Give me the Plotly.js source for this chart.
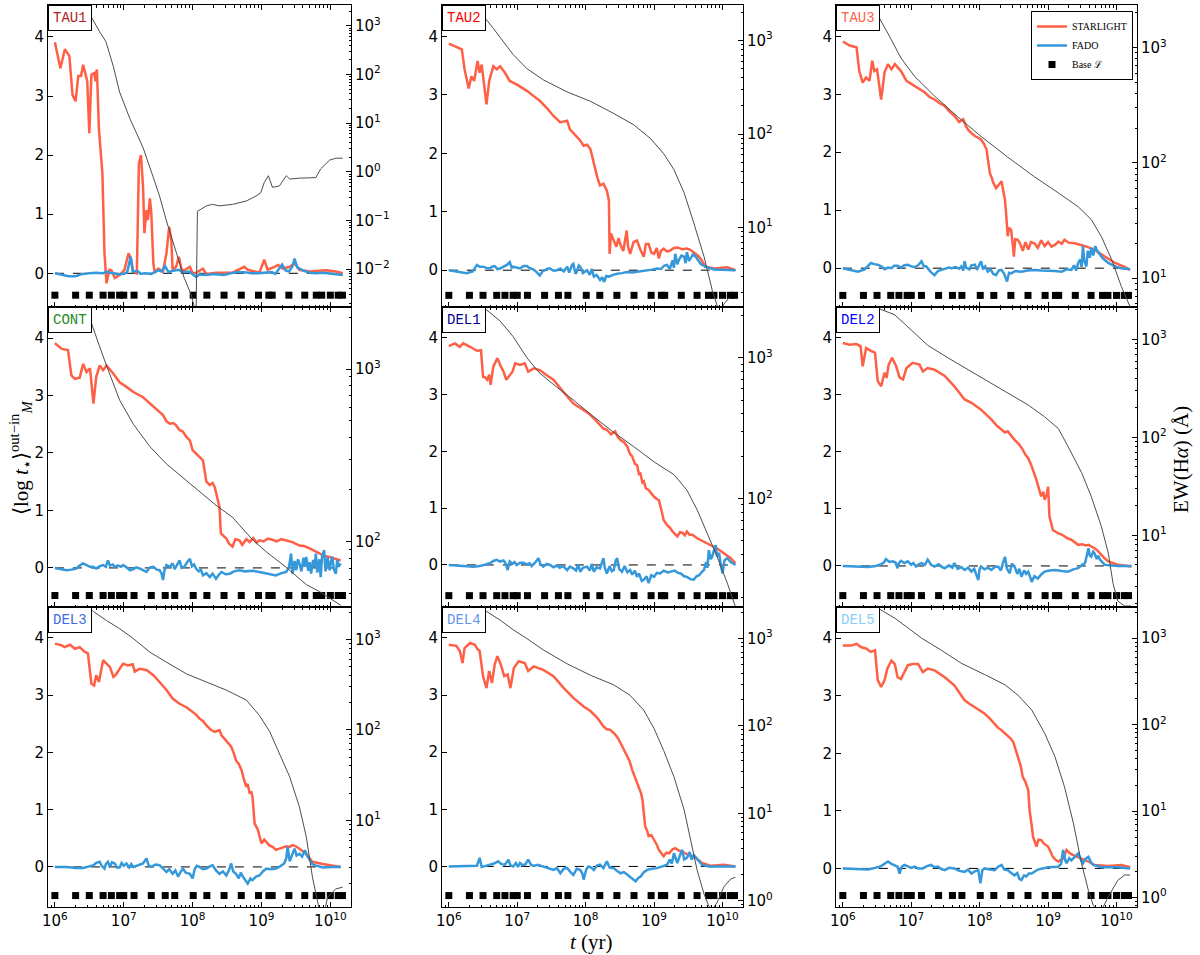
<!DOCTYPE html>
<html>
<head>
<meta charset="utf-8">
<script src="https://cdn.plot.ly/plotly-3.0.1.min.js"></script>
<style>
  body { margin: 0; background: #fff; }
  #chart { width: 1200px; height: 955px; }
</style>
</head>
<body>
<div id="chart"></div>
<script>
// panels, read row by row; every pair is [log10 t (yr), value]
const panelNames = ['TAU1', 'TAU2', 'TAU3', 'CONT', 'DEL1', 'DEL2', 'DEL3', 'DEL4', 'DEL5'];
const baseAges = [1e6, 2e6, 3.16e6, 5.01e6, 6.61e6, 8.71e6, 1e7, 1.41e7, 2.51e7, 4e7, 5.5e7, 1.02e8, 1.61e8, 2.86e8,
  5.09e8, 9.05e8, 1.28e9, 1.43e9, 2.5e9, 4.25e9, 6.25e9, 7.5e9, 1e10, 1.3e10, 1.5e10];
// level of the base squares on the left axis, per panel
const baseLevel = [-0.37, -0.43, -0.47, -0.48, -0.54, -0.52, -0.50, -0.51, -0.47];

// STARLIGHT: <log t*>_M out-in
const tau1Sl = [[6.00,3.91],[6.08,3.47],[6.145,3.79],[6.21,3.68],[6.256,3.02],[6.30,2.91],[6.34,3.34],[6.38,3.34],[6.41,3.53],[6.47,3.25],[6.50,2.37],[6.53,3.36],[6.57,3.39],[6.59,3.25],[6.61,3.45],[6.64,2.43],[6.69,1.69],[6.72,0.34],[6.75,-0.17],[6.79,0.06],[6.82,0.05],[6.87,-0.08],[6.94,-0.03],[7.01,0.06],[7.07,0.34],[7.11,0.23],[7.135,0.03],[7.19,0.00],[7.22,1.86],[7.25,2.00],[7.28,1.47],[7.30,0.68],[7.33,1.07],[7.35,0.90],[7.38,1.27],[7.40,1.02],[7.43,0.17],[7.45,0.01],[7.50,0.08],[7.57,0.03],[7.62,0.34],[7.66,0.79],[7.69,0.56],[7.71,0.06],[7.76,0.11],[7.80,0.28],[7.84,0.06],[7.88,0.05],[7.96,0.11],[8.00,0.00],[8.05,0.01],[8.15,0.08],[8.20,-0.01],[8.34,0.01],[8.58,0.01],[8.75,0.11],[8.80,0.06],[8.97,0.01],[9.04,0.23],[9.09,0.06],[9.19,0.11],[9.24,0.14],[9.31,0.08],[9.41,0.11],[9.48,0.17],[9.55,0.06],[9.70,0.03],[9.94,0.05],[10.08,0.03],[10.18,0.00]];
const tau2Sl = [[6.0,3.88],[6.11,3.82],[6.19,3.78],[6.23,3.44],[6.29,3.11],[6.33,3.32],[6.37,3.24],[6.42,3.58],[6.45,3.38],[6.48,3.52],[6.51,3.21],[6.55,2.84],[6.59,3.24],[6.65,3.49],[6.70,3.44],[6.75,3.49],[6.82,3.38],[6.89,3.24],[6.99,3.18],[7.14,3.07],[7.24,2.98],[7.33,2.90],[7.43,2.78],[7.53,2.64],[7.63,2.53],[7.73,2.56],[7.77,2.41],[7.87,2.27],[7.92,2.22],[7.97,2.13],[8.02,2.15],[8.07,2.07],[8.12,1.82],[8.17,1.59],[8.21,1.45],[8.26,1.48],[8.31,1.36],[8.34,1.19],[8.35,0.28],[8.37,0.63],[8.41,0.51],[8.45,0.40],[8.48,0.55],[8.51,0.43],[8.55,0.33],[8.60,0.68],[8.62,0.40],[8.65,0.28],[8.70,0.48],[8.75,0.51],[8.80,0.35],[8.85,0.23],[8.88,0.45],[8.92,0.45],[8.96,0.30],[9.00,0.28],[9.04,0.38],[9.07,0.20],[9.10,0.33],[9.14,0.37],[9.19,0.32],[9.24,0.34],[9.29,0.38],[9.34,0.39],[9.41,0.36],[9.48,0.37],[9.53,0.35],[9.58,0.31],[9.63,0.26],[9.68,0.20],[9.75,0.06],[9.88,0.03],[10.07,0.05],[10.19,0.00]];
const tau3Sl = [[6.0,3.91],[6.10,3.84],[6.20,3.81],[6.24,3.40],[6.29,3.20],[6.34,3.29],[6.39,3.23],[6.43,3.58],[6.46,3.40],[6.50,3.43],[6.56,2.91],[6.61,3.38],[6.66,3.52],[6.71,3.43],[6.76,3.52],[6.85,3.40],[6.93,3.23],[7.05,3.14],[7.20,3.03],[7.27,2.95],[7.34,2.91],[7.42,2.84],[7.49,2.80],[7.56,2.70],[7.63,2.63],[7.70,2.52],[7.76,2.57],[7.80,2.45],[7.83,2.39],[7.88,2.33],[7.93,2.28],[7.98,2.25],[8.02,2.22],[8.06,2.15],[8.10,2.05],[8.13,1.80],[8.15,1.64],[8.18,1.55],[8.20,1.47],[8.24,1.38],[8.28,1.45],[8.32,1.50],[8.35,1.30],[8.37,1.18],[8.39,0.89],[8.41,0.55],[8.43,0.70],[8.46,0.66],[8.48,0.45],[8.50,0.20],[8.52,0.50],[8.56,0.49],[8.60,0.40],[8.63,0.30],[8.67,0.45],[8.71,0.32],[8.75,0.45],[8.80,0.43],[8.85,0.35],[8.90,0.48],[8.95,0.38],[9.00,0.45],[9.05,0.37],[9.10,0.40],[9.15,0.46],[9.20,0.42],[9.24,0.49],[9.30,0.44],[9.39,0.43],[9.46,0.41],[9.54,0.38],[9.61,0.35],[9.68,0.32],[9.75,0.26],[9.83,0.20],[9.90,0.14],[9.98,0.09],[10.10,0.03],[10.20,-0.03]];
const contSl = [[6.0,3.91],[6.10,3.81],[6.19,3.79],[6.24,3.35],[6.29,3.29],[6.36,3.31],[6.41,3.55],[6.46,3.41],[6.51,3.47],[6.56,2.86],[6.60,3.32],[6.65,3.52],[6.70,3.44],[6.75,3.52],[6.85,3.38],[6.94,3.23],[7.04,3.15],[7.14,3.06],[7.28,2.97],[7.36,2.88],[7.43,2.80],[7.50,2.73],[7.57,2.66],[7.62,2.55],[7.67,2.51],[7.72,2.52],[7.76,2.48],[7.81,2.40],[7.86,2.37],[7.91,2.28],[7.96,2.22],[8.00,2.05],[8.05,1.99],[8.10,1.92],[8.15,1.87],[8.18,1.65],[8.20,1.50],[8.25,1.44],[8.29,1.48],[8.32,1.41],[8.37,1.18],[8.39,1.06],[8.41,0.60],[8.45,0.55],[8.49,0.51],[8.53,0.42],[8.58,0.37],[8.62,0.50],[8.68,0.48],[8.72,0.40],[8.78,0.50],[8.83,0.45],[8.88,0.52],[8.93,0.44],[8.97,0.48],[9.03,0.46],[9.09,0.51],[9.16,0.49],[9.22,0.46],[9.29,0.50],[9.36,0.48],[9.45,0.45],[9.55,0.39],[9.62,0.38],[9.70,0.34],[9.77,0.30],[9.84,0.25],[9.91,0.21],[9.99,0.19],[10.07,0.16],[10.15,0.13]];
const del1Sl = [[6.0,3.85],[6.09,3.90],[6.16,3.84],[6.21,3.90],[6.31,3.84],[6.41,3.77],[6.47,3.78],[6.50,3.31],[6.53,3.30],[6.56,3.26],[6.59,3.35],[6.61,3.17],[6.65,3.49],[6.71,3.64],[6.75,3.52],[6.80,3.40],[6.84,3.26],[6.89,3.34],[6.93,3.40],[6.97,3.55],[7.04,3.52],[7.11,3.55],[7.16,3.40],[7.24,3.46],[7.33,3.43],[7.43,3.34],[7.53,3.26],[7.63,3.11],[7.73,2.96],[7.82,2.84],[7.90,2.78],[7.97,2.73],[8.05,2.66],[8.12,2.58],[8.21,2.46],[8.26,2.40],[8.31,2.38],[8.37,2.30],[8.43,2.35],[8.47,2.25],[8.51,2.20],[8.56,2.16],[8.61,2.08],[8.65,1.95],[8.68,1.91],[8.72,1.78],[8.75,1.76],[8.78,1.60],[8.80,1.61],[8.83,1.45],[8.85,1.47],[8.88,1.35],[8.92,1.32],[8.96,1.25],[9.00,1.20],[9.04,1.16],[9.07,1.14],[9.11,0.95],[9.14,0.79],[9.19,0.70],[9.23,0.66],[9.27,0.59],[9.31,0.53],[9.34,0.50],[9.38,0.58],[9.42,0.56],[9.45,0.52],[9.48,0.59],[9.52,0.53],[9.56,0.53],[9.63,0.47],[9.68,0.44],[9.73,0.41],[9.78,0.38],[9.83,0.35],[9.88,0.31],[9.92,0.29],[9.97,0.25],[10.02,0.21],[10.07,0.17],[10.12,0.12],[10.19,0.03]];
const del2Sl = [[6.0,3.91],[6.10,3.88],[6.20,3.89],[6.26,3.85],[6.29,3.50],[6.34,3.82],[6.41,3.77],[6.47,3.74],[6.51,3.24],[6.56,3.15],[6.61,3.39],[6.64,3.30],[6.67,3.53],[6.72,3.65],[6.78,3.50],[6.83,3.30],[6.88,3.27],[6.93,3.47],[7.02,3.56],[7.12,3.53],[7.17,3.41],[7.24,3.47],[7.34,3.44],[7.49,3.33],[7.63,3.15],[7.72,3.00],[7.78,2.92],[7.88,2.86],[7.95,2.80],[8.02,2.74],[8.10,2.65],[8.17,2.57],[8.25,2.46],[8.32,2.39],[8.37,2.34],[8.41,2.36],[8.46,2.28],[8.51,2.21],[8.57,2.14],[8.63,2.04],[8.67,1.95],[8.71,1.89],[8.75,1.78],[8.78,1.69],[8.81,1.60],[8.83,1.51],[8.86,1.38],[8.90,1.22],[8.93,1.30],[8.95,1.16],[8.98,1.25],[9.00,1.39],[9.02,0.87],[9.05,0.70],[9.07,0.63],[9.11,0.60],[9.15,0.57],[9.20,0.55],[9.24,0.52],[9.29,0.48],[9.34,0.46],[9.39,0.41],[9.44,0.37],[9.50,0.38],[9.55,0.36],[9.59,0.37],[9.64,0.34],[9.68,0.31],[9.73,0.26],[9.78,0.19],[9.83,0.13],[9.88,0.08],[10.02,0.02],[10.22,-0.01]];
const del3Sl = [[6.0,3.90],[6.10,3.87],[6.14,3.84],[6.22,3.88],[6.29,3.81],[6.36,3.84],[6.43,3.76],[6.48,3.73],[6.53,3.20],[6.57,3.17],[6.60,3.35],[6.64,3.23],[6.70,3.61],[6.75,3.55],[6.80,3.49],[6.85,3.32],[6.88,3.35],[6.93,3.44],[6.99,3.55],[7.06,3.52],[7.13,3.54],[7.16,3.41],[7.23,3.46],[7.33,3.44],[7.43,3.35],[7.52,3.23],[7.62,3.09],[7.71,2.94],[7.76,2.90],[7.81,2.85],[7.91,2.79],[8.00,2.71],[8.05,2.66],[8.10,2.59],[8.15,2.55],[8.20,2.47],[8.26,2.40],[8.32,2.36],[8.39,2.39],[8.42,2.30],[8.46,2.24],[8.51,2.18],[8.56,2.10],[8.60,1.98],[8.63,1.86],[8.67,1.80],[8.71,1.69],[8.74,1.55],[8.78,1.40],[8.80,1.45],[8.83,1.28],[8.85,1.32],[8.87,1.22],[8.90,0.76],[8.93,0.70],[8.95,0.64],[8.98,0.50],[9.00,0.41],[9.04,0.48],[9.07,0.44],[9.11,0.38],[9.16,0.35],[9.21,0.30],[9.26,0.32],[9.31,0.34],[9.36,0.36],[9.41,0.35],[9.45,0.38],[9.50,0.36],[9.55,0.32],[9.60,0.28],[9.65,0.23],[9.70,0.15],[9.74,0.09],[9.89,0.05],[10.03,0.03],[10.15,0.00]];
const del4Sl = [[6.0,3.88],[6.11,3.86],[6.16,3.77],[6.20,3.56],[6.23,3.82],[6.31,3.91],[6.38,3.88],[6.42,3.80],[6.45,3.77],[6.50,3.33],[6.55,3.12],[6.59,3.42],[6.63,3.21],[6.67,3.53],[6.71,3.68],[6.76,3.53],[6.81,3.33],[6.86,3.36],[6.90,3.12],[6.95,3.47],[7.02,3.59],[7.11,3.56],[7.16,3.42],[7.24,3.50],[7.38,3.44],[7.53,3.33],[7.68,3.12],[7.82,2.95],[7.97,2.80],[8.07,2.72],[8.17,2.60],[8.26,2.45],[8.31,2.40],[8.36,2.39],[8.43,2.31],[8.47,2.25],[8.51,2.16],[8.56,2.05],[8.61,1.93],[8.64,1.85],[8.68,1.69],[8.71,1.60],[8.73,1.55],[8.76,1.45],[8.78,1.40],[8.81,1.28],[8.83,1.17],[8.85,0.95],[8.87,0.70],[8.90,0.62],[8.92,0.53],[8.96,0.55],[9.00,0.47],[9.04,0.38],[9.07,0.29],[9.11,0.22],[9.14,0.18],[9.18,0.24],[9.22,0.23],[9.27,0.30],[9.31,0.32],[9.36,0.28],[9.41,0.26],[9.46,0.23],[9.51,0.20],[9.56,0.18],[9.61,0.15],[9.66,0.10],[9.70,0.06],[9.83,0.01],[10.02,0.03],[10.19,0.00]];
const del5Sl = [[6.0,3.87],[6.12,3.87],[6.20,3.90],[6.27,3.84],[6.34,3.82],[6.41,3.76],[6.47,3.79],[6.51,3.27],[6.56,3.15],[6.61,3.27],[6.65,3.47],[6.71,3.61],[6.76,3.55],[6.80,3.32],[6.85,3.29],[6.90,3.41],[6.95,3.53],[7.02,3.55],[7.10,3.55],[7.17,3.41],[7.24,3.47],[7.34,3.44],[7.49,3.32],[7.63,3.18],[7.70,3.05],[7.78,2.92],[7.85,2.86],[7.93,2.80],[8.00,2.75],[8.07,2.69],[8.15,2.60],[8.22,2.51],[8.27,2.44],[8.32,2.40],[8.37,2.35],[8.41,2.31],[8.45,2.26],[8.49,2.20],[8.53,2.06],[8.56,1.94],[8.60,1.78],[8.63,1.59],[8.67,1.50],[8.71,1.36],[8.73,1.01],[8.76,0.75],[8.78,0.55],[8.81,0.45],[8.83,0.38],[8.86,0.50],[8.90,0.49],[8.94,0.43],[9.00,0.38],[9.04,0.28],[9.07,0.20],[9.11,0.15],[9.15,0.12],[9.19,0.15],[9.22,0.17],[9.27,0.32],[9.32,0.26],[9.37,0.23],[9.43,0.20],[9.49,0.17],[9.54,0.14],[9.59,0.12],[9.68,0.06],[9.88,0.04],[10.07,0.06],[10.20,0.02]];

// FADO: <log t*>_M out-in
const tau1Fd = [[6.0,0],[6.1,-0.02],[6.2,-0.05],[6.3,-0.05],[6.4,-0.01],[6.5,0],[6.6,0.01],[6.7,0],[6.75,0.03],[6.8,0.01],[6.9,-0.01],[7.0,-0.01],[7.05,0.02],[7.1,0.28],[7.13,0.03],[7.2,0.04],[7.25,-0.01],[7.3,0],[7.4,-0.01],[7.45,0.02],[7.5,0.05],[7.55,0.03],[7.6,0.12],[7.65,0.02],[7.7,0.04],[7.8,0.06],[7.85,0.02],[7.95,0.03],[8.0,-0.01],[8.05,-0.06],[8.1,-0.02],[8.2,-0.03],[8.3,-0.01],[8.45,-0.03],[8.55,0],[8.65,0.02],[8.75,0.02],[8.85,0],[8.95,0],[9.05,0.01],[9.15,0.02],[9.2,-0.01],[9.3,0.15],[9.35,0.05],[9.4,0.03],[9.45,0.12],[9.48,0.25],[9.52,0.1],[9.6,0.05],[9.7,0.01],[9.8,0],[9.9,0.01],[10.0,0],[10.1,-0.01],[10.18,-0.03]];
const tau2Fd = [[6.0,0],[6.13,-0.03],[6.26,-0.05],[6.35,-0.02],[6.41,0.09],[6.45,0.06],[6.50,0.06],[6.55,0.04],[6.60,0.03],[6.63,0.06],[6.67,0.07],[6.71,0.02],[6.75,0.03],[6.80,0.06],[6.85,0.09],[6.89,0.14],[6.92,0.04],[6.94,0.06],[6.99,0.05],[7.04,0.03],[7.09,0.07],[7.14,0.07],[7.19,0.03],[7.24,0.01],[7.29,-0.04],[7.33,-0.09],[7.37,-0.02],[7.41,0],[7.45,0.03],[7.48,0.03],[7.53,-0.01],[7.58,0],[7.63,0.03],[7.68,-0.02],[7.73,0.06],[7.76,-0.04],[7.80,0.09],[7.82,0.11],[7.85,-0.06],[7.87,-0.03],[7.90,0.08],[7.92,0.06],[7.96,-0.05],[8.02,0],[8.06,-0.08],[8.09,0.02],[8.12,-0.11],[8.16,-0.08],[8.21,-0.17],[8.24,-0.12],[8.27,-0.20],[8.30,-0.10],[8.34,-0.11],[8.40,-0.08],[8.46,-0.06],[8.53,-0.05],[8.60,-0.03],[8.68,-0.04],[8.75,-0.03],[8.83,-0.02],[8.90,0],[8.97,0.01],[9.04,0.03],[9.10,0.02],[9.15,0.08],[9.19,0.09],[9.23,0.02],[9.27,0.17],[9.29,0.04],[9.31,0.28],[9.34,0.10],[9.36,0.17],[9.40,0.25],[9.44,0.23],[9.46,0.12],[9.48,0.31],[9.51,0.16],[9.53,0.20],[9.57,0.27],[9.61,0.23],[9.65,0.15],[9.68,0.11],[9.75,0.06],[9.88,0.01],[10.19,0]];
const tau3Fd = [[6.0,0],[6.11,-0.03],[6.22,-0.06],[6.32,-0.02],[6.41,0.09],[6.46,0.07],[6.51,0.06],[6.56,0.03],[6.61,-0.02],[6.66,0.01],[6.71,0],[6.75,0.04],[6.80,0.04],[6.85,0.01],[6.90,0.05],[6.95,0.06],[7.00,0.03],[7.05,0.02],[7.10,0.05],[7.15,0.12],[7.18,0.04],[7.22,0.03],[7.28,-0.06],[7.34,-0.12],[7.39,-0.05],[7.44,-0.03],[7.50,-0.01],[7.55,0.01],[7.59,0],[7.65,0.02],[7.70,-0.01],[7.73,0.03],[7.76,-0.04],[7.78,0.12],[7.80,0.01],[7.85,-0.02],[7.88,0.05],[7.93,0.06],[7.96,-0.03],[7.99,0.04],[8.02,0.12],[8.05,-0.02],[8.08,0.03],[8.12,-0.06],[8.16,-0.02],[8.20,-0.10],[8.24,-0.12],[8.28,-0.04],[8.32,-0.03],[8.36,-0.10],[8.40,-0.23],[8.43,-0.08],[8.46,-0.09],[8.52,-0.05],[8.61,-0.06],[8.70,-0.04],[8.80,-0.03],[8.90,-0.04],[9.00,-0.04],[9.10,-0.05],[9.20,-0.06],[9.27,-0.02],[9.34,-0.03],[9.38,0.05],[9.41,-0.04],[9.44,0.09],[9.47,0.15],[9.49,0.02],[9.51,0.38],[9.53,0.12],[9.56,0.03],[9.58,0.30],[9.61,0.18],[9.63,0.35],[9.66,0.22],[9.69,0.38],[9.71,0.32],[9.74,0.25],[9.76,0.23],[9.80,0.17],[9.83,0.14],[9.88,0.09],[9.93,0.06],[10.00,0.02],[10.07,0],[10.20,-0.02]];
const contFd = [[6.0,0],[6.08,-0.02],[6.17,-0.04],[6.24,-0.03],[6.31,-0.01],[6.36,0.04],[6.41,0.08],[6.46,0.05],[6.51,0.02],[6.55,0.02],[6.60,-0.01],[6.65,0.03],[6.70,0.05],[6.74,0.02],[6.77,0.13],[6.80,0.04],[6.84,0.06],[6.87,0.02],[6.92,0.04],[6.96,0.02],[6.99,0.05],[7.04,0.01],[7.09,-0.04],[7.14,-0.02],[7.18,0.01],[7.23,-0.01],[7.28,-0.04],[7.33,-0.07],[7.38,0.01],[7.43,0.02],[7.48,-0.03],[7.52,-0.04],[7.55,-0.10],[7.57,-0.21],[7.59,-0.05],[7.62,0.05],[7.67,0.02],[7.71,0.08],[7.74,-0.02],[7.78,0.06],[7.81,0.13],[7.84,0.00],[7.88,0.02],[7.92,0.10],[7.96,0.16],[7.99,0.03],[8.02,0.06],[8.05,-0.01],[8.09,-0.06],[8.12,-0.03],[8.15,-0.13],[8.20,-0.09],[8.25,-0.16],[8.29,-0.10],[8.34,-0.19],[8.38,-0.12],[8.42,-0.07],[8.48,-0.11],[8.54,-0.10],[8.60,-0.06],[8.68,-0.04],[8.76,-0.06],[8.87,-0.05],[8.97,-0.07],[9.07,-0.10],[9.14,-0.11],[9.21,-0.13],[9.29,-0.09],[9.36,-0.07],[9.40,0.02],[9.43,0.25],[9.45,-0.10],[9.48,0.12],[9.50,-0.04],[9.53,0.15],[9.55,0.08],[9.58,-0.06],[9.61,0.18],[9.63,0.02],[9.65,0.19],[9.68,-0.05],[9.70,0.10],[9.72,-0.10],[9.75,0.14],[9.77,0.02],[9.79,0.25],[9.81,-0.08],[9.84,0.15],[9.86,-0.16],[9.88,0.20],[9.91,0.31],[9.93,-0.06],[9.96,0.18],[9.99,-0.04],[10.01,0.12],[10.03,0.19],[10.05,-0.02],[10.08,-0.10],[10.10,0.14],[10.12,0.02],[10.15,0.08]];
const del1Fd = [[6.0,0],[6.13,-0.01],[6.26,-0.02],[6.36,-0.03],[6.45,-0.02],[6.53,0],[6.60,0.03],[6.65,0.07],[6.70,0.09],[6.75,0.06],[6.80,0.08],[6.83,0.03],[6.86,-0.09],[6.89,0.06],[6.93,0.02],[6.96,0.05],[6.99,0],[7.04,0.04],[7.09,0.04],[7.14,0.01],[7.18,0.03],[7.21,-0.02],[7.26,0.04],[7.31,0.12],[7.34,0.01],[7.38,-0.03],[7.43,0.02],[7.48,0],[7.53,-0.04],[7.58,-0.01],[7.62,-0.05],[7.67,-0.02],[7.73,-0.09],[7.77,-0.03],[7.82,-0.06],[7.86,-0.10],[7.89,0.01],[7.92,-0.12],[7.96,-0.05],[8.02,-0.03],[8.06,-0.10],[8.09,0.02],[8.12,-0.12],[8.16,-0.04],[8.21,-0.06],[8.26,0.12],[8.28,-0.05],[8.31,-0.15],[8.35,-0.02],[8.38,-0.11],[8.41,-0.09],[8.44,0.08],[8.46,0.12],[8.49,-0.07],[8.53,-0.12],[8.57,-0.02],[8.61,-0.13],[8.65,-0.09],[8.68,-0.17],[8.72,-0.10],[8.75,-0.21],[8.78,-0.15],[8.82,-0.28],[8.85,-0.26],[8.89,-0.20],[8.92,-0.32],[8.96,-0.18],[9.00,-0.21],[9.04,-0.14],[9.09,-0.15],[9.14,-0.10],[9.20,-0.13],[9.24,-0.12],[9.30,-0.10],[9.35,-0.14],[9.39,-0.15],[9.44,-0.20],[9.48,-0.21],[9.53,-0.25],[9.58,-0.26],[9.62,-0.20],[9.66,-0.18],[9.70,-0.12],[9.73,-0.09],[9.76,0.05],[9.78,-0.05],[9.80,0.26],[9.83,0.10],[9.85,0.15],[9.88,0.30],[9.90,0.35],[9.92,0.15],[9.95,0.21],[9.97,0.05],[10.00,-0.15],[10.03,0.08],[10.07,0.12],[10.12,0.05],[10.19,0]];
const del2Fd = [[6.0,0],[6.18,-0.01],[6.37,-0.02],[6.48,0.0],[6.54,0.02],[6.60,0.06],[6.63,0.12],[6.68,0.07],[6.73,0.08],[6.77,0.06],[6.80,-0.04],[6.82,0.05],[6.85,0.09],[6.90,0.05],[6.95,0.08],[7.00,0.02],[7.03,0.05],[7.07,-0.01],[7.11,0.03],[7.15,0.05],[7.20,0.02],[7.24,0.11],[7.29,0.02],[7.34,-0.01],[7.40,0.03],[7.45,-0.02],[7.49,-0.04],[7.55,0.01],[7.60,-0.03],[7.63,0.05],[7.68,-0.05],[7.73,-0.02],[7.78,-0.07],[7.83,-0.03],[7.88,-0.10],[7.92,-0.05],[7.95,-0.15],[7.98,-0.25],[8.00,-0.05],[8.02,-0.01],[8.07,-0.06],[8.12,-0.03],[8.17,-0.07],[8.22,-0.02],[8.27,-0.01],[8.31,-0.08],[8.34,0.05],[8.37,0.16],[8.40,-0.05],[8.44,-0.13],[8.47,0.04],[8.51,-0.01],[8.55,-0.14],[8.58,-0.05],[8.61,-0.19],[8.65,-0.08],[8.68,-0.14],[8.71,-0.10],[8.74,-0.20],[8.76,-0.28],[8.80,-0.18],[8.85,-0.22],[8.90,-0.15],[8.95,-0.10],[9.02,-0.08],[9.10,-0.07],[9.20,-0.09],[9.29,-0.10],[9.37,-0.06],[9.44,-0.04],[9.50,0.02],[9.54,0.05],[9.57,0.20],[9.59,0.31],[9.61,0.18],[9.63,0.16],[9.66,0.25],[9.68,0.22],[9.71,0.12],[9.73,0.18],[9.76,0.11],[9.80,0.05],[9.83,0.02],[9.90,0.01],[10.02,0],[10.22,0]];
const del3Fd = [[6.0,0],[6.17,0],[6.30,-0.02],[6.41,-0.02],[6.50,0.01],[6.56,0.03],[6.60,0.07],[6.65,0.09],[6.68,0.02],[6.72,-0.03],[6.74,0.05],[6.77,0.09],[6.80,0.00],[6.83,0.08],[6.87,0.06],[6.90,-0.01],[6.94,-0.01],[6.97,0.07],[7.00,0.02],[7.04,0.06],[7.08,-0.01],[7.11,0.05],[7.14,0],[7.19,0.02],[7.23,0.03],[7.28,0.06],[7.33,0.15],[7.36,0.03],[7.40,0],[7.46,0.04],[7.52,0.03],[7.57,-0.04],[7.62,-0.09],[7.66,-0.04],[7.71,-0.12],[7.75,-0.06],[7.79,-0.17],[7.83,-0.08],[7.86,-0.03],[7.90,-0.10],[7.96,-0.12],[8.00,-0.20],[8.03,-0.04],[8.06,0.02],[8.10,0],[8.15,-0.04],[8.20,-0.03],[8.25,0.01],[8.29,0.03],[8.34,-0.06],[8.39,-0.12],[8.44,-0.08],[8.49,-0.15],[8.53,-0.05],[8.56,0.06],[8.59,-0.08],[8.63,-0.12],[8.67,-0.20],[8.70,-0.10],[8.73,-0.17],[8.77,-0.24],[8.80,-0.29],[8.84,-0.20],[8.87,-0.23],[8.92,-0.17],[8.97,-0.15],[9.02,-0.08],[9.07,-0.03],[9.14,-0.04],[9.21,-0.03],[9.27,0.01],[9.33,0.06],[9.36,0.15],[9.38,0.35],[9.41,0.10],[9.43,0.17],[9.46,0.28],[9.48,0.32],[9.51,0.20],[9.55,0.23],[9.59,0.18],[9.63,0.29],[9.66,0.20],[9.70,0.12],[9.74,0.05],[9.77,0.03],[9.89,-0.01],[10.03,0],[10.15,0]];
const del4Fd = [[6.0,0],[6.13,0],[6.26,0],[6.35,0.01],[6.41,0.01],[6.45,0.15],[6.48,-0.01],[6.54,0.01],[6.60,0.03],[6.66,0.05],[6.72,0.09],[6.77,0.04],[6.82,0.03],[6.85,0.09],[6.87,0.12],[6.90,0.02],[6.94,0],[6.98,0.06],[7.01,-0.01],[7.04,0.06],[7.08,0.02],[7.12,0.04],[7.16,0.12],[7.20,0.03],[7.24,0.01],[7.30,0.03],[7.38,0],[7.45,-0.02],[7.53,-0.06],[7.58,-0.03],[7.63,-0.12],[7.68,-0.04],[7.73,-0.03],[7.78,-0.10],[7.82,-0.15],[7.87,-0.04],[7.92,-0.06],[7.95,-0.12],[7.97,-0.23],[8.01,-0.05],[8.04,0],[8.08,-0.02],[8.12,-0.06],[8.17,0.02],[8.21,0.03],[8.26,-0.03],[8.31,0.09],[8.35,-0.02],[8.41,-0.03],[8.46,-0.08],[8.51,-0.12],[8.56,-0.10],[8.61,-0.15],[8.65,-0.18],[8.69,-0.22],[8.73,-0.26],[8.77,-0.20],[8.80,-0.18],[8.85,-0.10],[8.90,-0.06],[8.97,-0.04],[9.04,-0.03],[9.12,0],[9.19,0.03],[9.23,0.12],[9.26,0.05],[9.29,0.23],[9.32,0.10],[9.34,0.06],[9.38,0.20],[9.41,0.29],[9.44,0.12],[9.48,0.15],[9.52,0.25],[9.55,0.12],[9.58,0.20],[9.62,0.14],[9.66,0.09],[9.70,0.03],[9.80,0],[9.88,0],[10.19,0]];
const del5Fd = [[6.0,0],[6.18,-0.01],[6.37,-0.02],[6.47,0.01],[6.56,0.04],[6.61,0.08],[6.66,0.12],[6.71,0.08],[6.76,0.06],[6.80,0.03],[6.83,-0.09],[6.86,0.03],[6.90,0.06],[6.95,0.04],[7.00,0.01],[7.05,0.03],[7.10,0.00],[7.17,0],[7.23,0.04],[7.29,0.06],[7.34,0.02],[7.39,0.03],[7.44,-0.01],[7.49,-0.03],[7.55,0.01],[7.63,0],[7.70,-0.04],[7.78,-0.06],[7.83,-0.02],[7.88,-0.09],[7.93,-0.05],[7.98,-0.03],[8.01,-0.26],[8.04,-0.03],[8.07,0],[8.15,-0.02],[8.22,-0.03],[8.27,0.03],[8.32,0.06],[8.36,-0.02],[8.41,-0.03],[8.46,-0.08],[8.51,-0.12],[8.55,-0.08],[8.58,-0.18],[8.61,-0.20],[8.65,-0.12],[8.68,-0.14],[8.72,-0.09],[8.76,-0.09],[8.85,-0.02],[9.00,0.02],[9.15,0.03],[9.19,0.08],[9.22,0.32],[9.25,0.15],[9.27,0.09],[9.31,0.18],[9.34,0.14],[9.39,0.20],[9.44,0.26],[9.48,0.15],[9.51,0.09],[9.55,0.17],[9.59,0.20],[9.63,0.10],[9.66,0.06],[9.78,0.02],[10.02,0.02],[10.20,0]];

// EW(Halpha), stored as [log10 t, log10 EW]
const tau1Ew = [[6.40,3.55],[6.51,3.23],[6.65,2.88],[6.74,2.68],[6.85,2.16],[6.94,1.64],[7.09,1.09],[7.28,0.50],[7.43,-0.12],[7.52,-0.50],[7.62,-1.01],[7.76,-1.63],[7.88,-2.19],[7.98,-2.53],[8.03,-2.81],[8.045,-3.5],[8.07,-0.81],[8.12,-0.77],[8.20,-0.70],[8.29,-0.67],[8.39,-0.70],[8.58,-0.67],[8.78,-0.60],[8.92,-0.50],[8.99,-0.43],[9.04,-0.22],[9.10,-0.08],[9.16,-0.32],[9.26,-0.29],[9.36,-0.08],[9.41,-0.15],[9.55,-0.13],[9.70,-0.12],[9.79,-0.12],[9.86,0.06],[9.99,0.24],[10.08,0.28],[10.18,0.28]];
const tau2Ew = [[6.40,3.40],[6.53,3.24],[6.65,3.13],[6.80,2.99],[6.94,2.85],[7.14,2.70],[7.38,2.58],[7.73,2.45],[8.07,2.35],[8.41,2.22],[8.70,2.10],[8.95,1.95],[9.14,1.79],[9.29,1.62],[9.44,1.37],[9.58,1.05],[9.73,0.69],[9.85,0.33],[9.92,0.16],[9.95,0.10],[9.98,0.12],[10.03,0.19],[10.10,0.25]];
const tau3Ew = [[6.45,3.42],[6.54,3.25],[6.68,3.10],[6.85,2.91],[7.05,2.75],[7.34,2.58],[7.68,2.40],[8.02,2.23],[8.41,2.05],[8.80,1.88],[9.15,1.74],[9.44,1.62],[9.63,1.51],[9.78,1.36],[9.93,1.16],[10.07,0.93],[10.20,0.75]];
const contEw = [[6.45,3.36],[6.56,3.23],[6.65,3.13],[6.75,3.02],[6.85,2.92],[6.94,2.82],[7.14,2.68],[7.38,2.55],[7.62,2.45],[7.86,2.37],[8.10,2.29],[8.34,2.21],[8.58,2.14],[8.87,2.01],[9.07,1.94],[9.36,1.85],[9.65,1.75],[9.84,1.71],[10.15,1.63]];
const del1Ew = [[6.30,3.37],[6.55,3.34],[6.75,3.26],[6.94,3.15],[7.14,3.00],[7.33,2.89],[7.58,2.79],[7.82,2.70],[8.12,2.58],[8.41,2.47],[8.70,2.37],[9.00,2.26],[9.29,2.17],[9.48,2.06],[9.63,1.92],[9.78,1.75],[9.92,1.59],[10.07,1.40],[10.19,1.23]];
const del2Ew = [[6.40,3.36],[6.54,3.31],[6.76,3.25],[7.00,3.10],[7.24,2.94],[7.54,2.81],[7.83,2.69],[8.12,2.57],[8.41,2.45],[8.71,2.33],[8.95,2.21],[9.15,2.09],[9.29,1.91],[9.49,1.64],[9.63,1.40],[9.78,1.09],[9.88,0.82],[9.95,0.51],[10.02,0.33],[10.12,0.28],[10.22,0.28]];
const del3Ew = [[6.45,3.38],[6.56,3.31],[6.75,3.21],[6.94,3.12],[7.14,3.01],[7.38,2.86],[7.62,2.75],[7.91,2.62],[8.20,2.53],[8.49,2.44],[8.78,2.33],[8.97,2.16],[9.12,1.98],[9.26,1.74],[9.41,1.48],[9.55,1.15],[9.65,0.82],[9.74,0.37],[9.82,0.06],[9.87,-0.10],[9.93,0.04],[9.96,0.15],[10.08,0.24],[10.18,0.26]];
const del4Ew = [[6.40,3.40],[6.53,3.32],[6.75,3.21],[6.94,3.10],[7.14,3.00],[7.38,2.87],[7.73,2.71],[8.07,2.58],[8.41,2.47],[8.65,2.35],[8.85,2.18],[9.00,1.97],[9.14,1.72],[9.29,1.42],[9.44,1.04],[9.53,0.73],[9.63,0.35],[9.73,0.08],[9.80,-0.06],[9.86,-0.09],[9.92,-0.02],[10.02,0.16],[10.12,0.25],[10.19,0.27]];
const del5Ew = [[6.40,3.40],[6.54,3.33],[6.76,3.23],[6.95,3.12],[7.15,3.00],[7.44,2.86],[7.73,2.71],[8.07,2.58],[8.37,2.46],[8.56,2.34],[8.76,2.17],[8.95,1.90],[9.10,1.63],[9.24,1.28],[9.37,0.86],[9.49,0.39],[9.59,0.08],[9.66,-0.09],[9.72,-0.15],[9.80,-0.12],[9.88,0.01],[10.02,0.20],[10.12,0.26],[10.20,0.26]];

const slSeries = [tau1Sl, tau2Sl, tau3Sl, contSl, del1Sl, del2Sl, del3Sl, del4Sl, del5Sl];
const fdSeries = [tau1Fd, tau2Fd, tau3Fd, contFd, del1Fd, del2Fd, del3Fd, del4Fd, del5Fd];
const ewSeries = [tau1Ew, tau2Ew, tau3Ew, contEw, del1Ew, del2Ew, del3Ew, del4Ew, del5Ew];

// look of each panel
const labelColors = ['#b22222', '#ff0000', '#ff6347', '#228b22', '#00008b', '#0000ff', '#4169e1', '#6495ed', '#87cefa'];
const leftMin = [-0.57, -0.63, -0.67, -0.68, -0.74, -0.72, -0.70, -0.71, -0.67];
const ewRange = [[-2.78, 3.43], [0.15, 3.38], [0.75, 3.37], [1.62, 3.36], [1.23, 3.36], [0.27, 3.33], [0.04, 3.36], [-0.07, 3.36], [-0.11, 3.36]];
const ewDecades = [[-2, -1, 0, 1, 2, 3], [1, 2, 3], [1, 2, 3], [2, 3], [2, 3], [1, 2, 3], [1, 2, 3], [0, 1, 2, 3], [0, 1, 2, 3]];
const colPx = [[48, 351], [442, 743], [836, 1137]];
const rowPx = [[5, 307], [307, 607], [607, 907]];
const W = 1200, H = 955;

const slColor = '#ff5f45';
const fdColor = '#3498db';
const tickFont = { family: 'DejaVu Sans, sans-serif', size: 15, color: '#000' };
const titleFont = { family: 'Liberation Serif, serif', size: 21, color: '#000' };

function powLabel(p) {
  return '10<sup>' + (p < 0 ? '\u2212' + (-p) : p) + '</sup>';
}
function minorTicks(lo, hi) {
  const out = [];
  for (let d = Math.floor(lo); d <= Math.ceil(hi); d++) {
    for (let k = 2; k <= 9; k++) out.push(k * Math.pow(10, d));
  }
  return out;
}
const xDecades = [6, 7, 8, 9, 10];

const data = [];
const layout = {
  width: W, height: H,
  margin: { l: 0, r: 0, t: 0, b: 0 },
  paper_bgcolor: '#fff', plot_bgcolor: '#fff',
  showlegend: true,
  legend: {
    x: 1133 / W, y: 1 - 11 / H, xanchor: 'right', yanchor: 'top',
    bgcolor: '#fff', bordercolor: '#000', borderwidth: 1,
    font: { family: 'Liberation Serif, serif', size: 10, color: '#000' },
    itemwidth: 30, tracegroupgap: 0
  },
  annotations: []
};

panelNames.forEach((name, i) => {
  const row = Math.floor(i / 3), col = i % 3;
  const n = i + 1;
  const xName = n === 1 ? 'x' : 'x' + n;
  const yL = 'y' + (2 * i + 1 === 1 ? '' : 2 * i + 1);
  const yR = 'y' + (2 * i + 2);
  const xKey = n === 1 ? 'xaxis' : 'xaxis' + n;
  const yLKey = 2 * i + 1 === 1 ? 'yaxis' : 'yaxis' + (2 * i + 1);
  const yRKey = 'yaxis' + (2 * i + 2);
  const legendOn = i === 2;

  layout[xKey] = {
    type: 'log', range: [5.9, 10.3],
    domain: [colPx[col][0] / W, colPx[col][1] / W],
    anchor: yL,
    showline: true, linecolor: '#000', linewidth: 1, mirror: 'ticks',
    ticks: 'inside', ticklen: 5, tickcolor: '#000',
    tickmode: 'array', tickvals: xDecades.map(d => Math.pow(10, d)), ticktext: xDecades.map(powLabel),
    showticklabels: row === 2, tickfont: tickFont,
    minor: { ticks: 'inside', ticklen: 2.5, tickcolor: '#000', tickmode: 'array', tickvals: minorTicks(5, 10), showgrid: false },
    showgrid: false, zeroline: false
  };
  layout[yLKey] = {
    range: [leftMin[i], 4.54],
    domain: [1 - rowPx[row][1] / H, 1 - rowPx[row][0] / H],
    anchor: xName,
    showline: true, linecolor: '#000', linewidth: 1,
    ticks: 'inside', ticklen: 5, tickcolor: '#000',
    tickmode: 'array', tickvals: [0, 1, 2, 3, 4], tickfont: tickFont,
    showgrid: false, zeroline: false
  };
  layout[yRKey] = {
    type: 'log', range: ewRange[i],
    overlaying: yL, side: 'right', anchor: xName,
    showline: true, linecolor: '#000', linewidth: 1,
    ticks: 'inside', ticklen: 5, tickcolor: '#000',
    tickmode: 'array', tickvals: ewDecades[i].map(d => Math.pow(10, d)), ticktext: ewDecades[i].map(powLabel),
    tickfont: tickFont,
    minor: { ticks: 'inside', ticklen: 2.5, tickcolor: '#000', tickmode: 'array', tickvals: minorTicks(ewRange[i][0], ewRange[i][1]), showgrid: false },
    showgrid: false, zeroline: false
  };

  data.push({
    x: [baseAges[0], baseAges[baseAges.length - 1]], y: [0, 0],
    xaxis: xName, yaxis: yL, mode: 'lines',
    line: { color: '#000', width: 1, dash: 'dash' },
    showlegend: false, hoverinfo: 'skip'
  });
  data.push({
    x: slSeries[i].map(p => Math.pow(10, p[0])), y: slSeries[i].map(p => p[1]),
    xaxis: xName, yaxis: yL, mode: 'lines', name: 'STARLIGHT',
    line: { color: slColor, width: 2.5 },
    showlegend: legendOn
  });
  data.push({
    x: fdSeries[i].map(p => Math.pow(10, p[0])), y: fdSeries[i].map(p => p[1]),
    xaxis: xName, yaxis: yL, mode: 'lines', name: 'FADO',
    line: { color: fdColor, width: 2.5 },
    showlegend: legendOn
  });
  data.push({
    x: baseAges, y: baseAges.map(() => baseLevel[i]),
    xaxis: xName, yaxis: yL, mode: 'markers', name: 'Base \u2112',
    marker: { symbol: 'square', size: 7, color: '#000' },
    showlegend: legendOn
  });
  data.push({
    x: ewSeries[i].map(p => Math.pow(10, p[0])), y: ewSeries[i].map(p => Math.pow(10, p[1])),
    xaxis: xName, yaxis: yR, mode: 'lines',
    line: { color: '#4d4d4d', width: 1 },
    showlegend: false
  });

  layout.annotations.push({
    xref: xName + ' domain', yref: yL + ' domain', x: 0, y: 1,
    xanchor: 'left', yanchor: 'top', showarrow: false,
    text: name,
    font: { family: 'Liberation Mono, monospace', size: 14, color: labelColors[i] },
    bgcolor: '#fff', bordercolor: '#000', borderwidth: 1, borderpad: 4
  });
});

// figure-wide axis titles
layout.annotations.push({
  xref: 'paper', yref: 'paper', x: 20 / W, y: 1 - 458 / H,
  xanchor: 'center', yanchor: 'middle', textangle: -90, showarrow: false,
  text: '\u27e8log <i>t</i><sub>\u22c6</sub>\u27e9<sup>out\u2212in</sup><sub><i>M</i></sub>',
  font: titleFont
});
layout.annotations.push({
  xref: 'paper', yref: 'paper', x: 1181 / W, y: 1 - 460 / H,
  xanchor: 'center', yanchor: 'middle', textangle: -90, showarrow: false,
  text: 'EW(H<i>\u03b1</i>) (\u00c5)',
  font: titleFont
});
layout.annotations.push({
  xref: 'paper', yref: 'paper', x: 591 / W, y: 1 - 942 / H,
  xanchor: 'center', yanchor: 'middle', showarrow: false,
  text: '<i>t</i> (yr)',
  font: titleFont
});

Plotly.newPlot('chart', data, layout, { staticPlot: true });
</script>
</body>
</html>
